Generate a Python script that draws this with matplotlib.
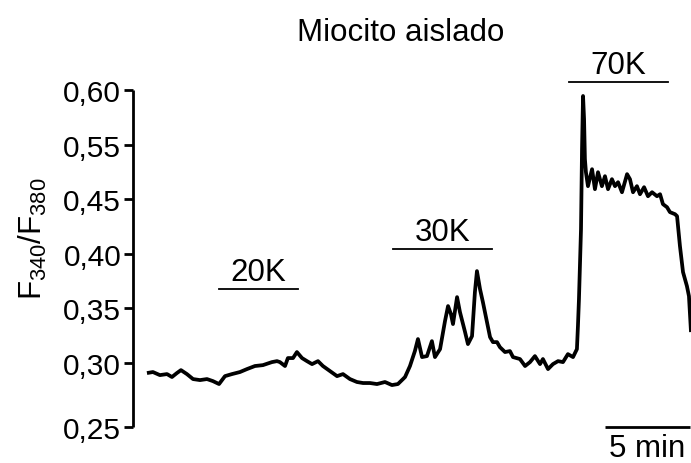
import numpy as np
import matplotlib
matplotlib.use("Agg")
import matplotlib.pyplot as plt

plt.rcParams['font.family'] = ['Liberation Sans', 'DejaVu Sans']
plt.rcParams['mathtext.default'] = 'regular'

# Fura-2 ratio trace of an isolated myocyte (time in minutes)
time_min = [0.00, 0.35, 0.76, 1.18, 1.47, 1.76, 2.00, 2.35, 2.71, 3.12, 3.53, 3.88,
            4.24, 4.59, 5.00, 5.47, 5.88, 6.35, 6.82, 7.35, 7.65, 7.82, 8.12, 8.29,
            8.59, 8.82, 9.12, 9.41, 9.71, 10.06, 10.35, 10.76, 11.18, 11.53, 11.94,
            12.35, 12.71, 13.12, 13.53, 14.00, 14.41, 14.76, 15.06, 15.18, 15.47,
            15.76, 15.94, 16.18, 16.47, 16.76, 16.94, 17.24, 17.53, 17.71, 17.88,
            18.00, 18.24, 18.41, 18.71, 18.88, 19.12, 19.29, 19.41, 19.59, 19.76,
            20.00, 20.18, 20.35, 20.59, 20.76, 21.06, 21.35, 21.53, 21.94, 22.24,
            22.53, 22.82, 23.12, 23.29, 23.59, 23.88, 24.18, 24.47, 24.76, 25.06,
            25.29, 25.35, 25.41, 25.53, 25.59, 25.65, 25.71, 25.76, 25.82, 25.94,
            26.18, 26.35, 26.53, 26.76, 26.94, 27.12, 27.35, 27.53, 27.71, 27.94,
            28.24, 28.41, 28.59, 28.82, 29.00, 29.24, 29.47, 29.71, 30.00, 30.18,
            30.35, 30.59, 30.76, 31.06, 31.18, 31.35, 31.53, 31.76, 31.88, 32.00]
ratio = [0.2922, 0.2930, 0.2906, 0.2914, 0.2891, 0.2922, 0.2945, 0.2914, 0.2875,
         0.2867, 0.2875, 0.2859, 0.2836, 0.2898, 0.2914, 0.2930, 0.2953, 0.2977,
         0.2984, 0.3009, 0.3018, 0.3009, 0.2977, 0.3046, 0.3046, 0.3101, 0.3046,
         0.3018, 0.2992, 0.3018, 0.2977, 0.2938, 0.2898, 0.2914, 0.2875, 0.2852,
         0.2844, 0.2844, 0.2836, 0.2852, 0.2828, 0.2836, 0.2875, 0.2891, 0.2977,
         0.3110, 0.3220, 0.3055, 0.3064, 0.3201, 0.3055, 0.3128, 0.3384, 0.3522,
         0.3448, 0.3357, 0.3604, 0.3467, 0.3284, 0.3174, 0.3247, 0.3650, 0.3842,
         0.3677, 0.3558, 0.3375, 0.3238, 0.3192, 0.3192, 0.3146, 0.3101, 0.3110,
         0.3055, 0.3037, 0.2977, 0.3009, 0.3064, 0.2992, 0.3037, 0.2953, 0.2992,
         0.3018, 0.3009, 0.3082, 0.3055, 0.3128, 0.3339, 0.3586, 0.4226, 0.5418,
         0.5945, 0.5734, 0.5234, 0.4995, 0.4739, 0.5050, 0.4684, 0.4995, 0.4739,
         0.4922, 0.4684, 0.4867, 0.4739, 0.4812, 0.4628, 0.4959, 0.4867, 0.4628,
         0.4739, 0.4592, 0.4720, 0.4555, 0.4628, 0.4555, 0.4592, 0.4455, 0.4427,
         0.4382, 0.4363, 0.4345, 0.4071, 0.3833, 0.3705, 0.3613, 0.3284]

# KCl applications: label, start, end (min)
stim_labels = ['20K', '30K', '70K']
stim_start = [4.24, 14.47, 24.82]
stim_end = [8.88, 20.29, 30.65]

# y axis tick values and labels
ytick_values = [0.25, 0.30, 0.35, 0.40, 0.45, 0.55, 0.60]
ytick_labels = ['0,25', '0,30', '0,35', '0,40', '0,45', '0,55', '0,60']

# Axis positions of the tick values (irregular, as printed)
_vals = np.array([0.15, 0.25, 0.30, 0.35, 0.40, 0.45, 0.55, 0.60, 0.70])
_pos = np.array([-2.17, 0.0, 1.17, 2.17, 3.17, 4.17, 5.17, 6.17, 8.17])


def fwd(v):
    return np.interp(v, _vals, _pos)


def inv(p):
    return np.interp(p, _pos, _vals)


FS = 22.5

fig = plt.figure(figsize=(6.91, 4.64), dpi=100)
ax = fig.add_axes([0.1925, 0.0776, 0.8075, 0.7263])
ax.set_yscale('function', functions=(fwd, inv))

ax.plot(time_min, ratio, color='black', lw=2.7, solid_joinstyle='round',
        solid_capstyle='butt', clip_on=False)

ax.set_xlim(-0.82, 32.0)
ax.set_ylim(0.25, 0.60)
ax.set_yticks(ytick_values)
ax.set_yticklabels(ytick_labels)
ax.yaxis.set_minor_locator(matplotlib.ticker.NullLocator())
ax.tick_params(axis='y', length=6.5, width=2.0, labelsize=21.5, pad=2, direction='out')
ax.set_xticks([])
for s in ['top', 'right', 'bottom']:
    ax.spines[s].set_visible(False)
ax.spines['left'].set_linewidth(2.0)
ax.spines['left'].set_capstyle('butt')

# stimulus bars with labels
bar_y = [0.368, 0.4045, 0.6073]
for lab, t0, t1, by in zip(stim_labels, stim_start, stim_end, bar_y):
    ax.plot([t0, t1], [by, by], color='black', lw=1.3, clip_on=False)
    ax.annotate(lab, xy=((t0 + t1) / 2, by), xytext=(0, 6.5), textcoords='offset points',
                ha='center', va='baseline', fontsize=FS, annotation_clip=False)

# 5 min scale bar
ax.plot([26.94, 31.94], [0.25, 0.25], color='black', lw=2.0, clip_on=False,
        solid_capstyle='butt')
ax.annotate('5 min', xy=(29.44, 0.25), xytext=(0, -4), textcoords='offset points',
            ha='center', va='top', fontsize=FS, annotation_clip=False)

fig.text(0.580, 0.928, 'Miocito aislado', ha='center', va='center', fontsize=FS)
fig.text(0.047, 0.485, r'F$_{340}$/F$_{380}$', rotation=90, ha='center', va='center',
         fontsize=FS)

fig.savefig('out.png', dpi=100)
